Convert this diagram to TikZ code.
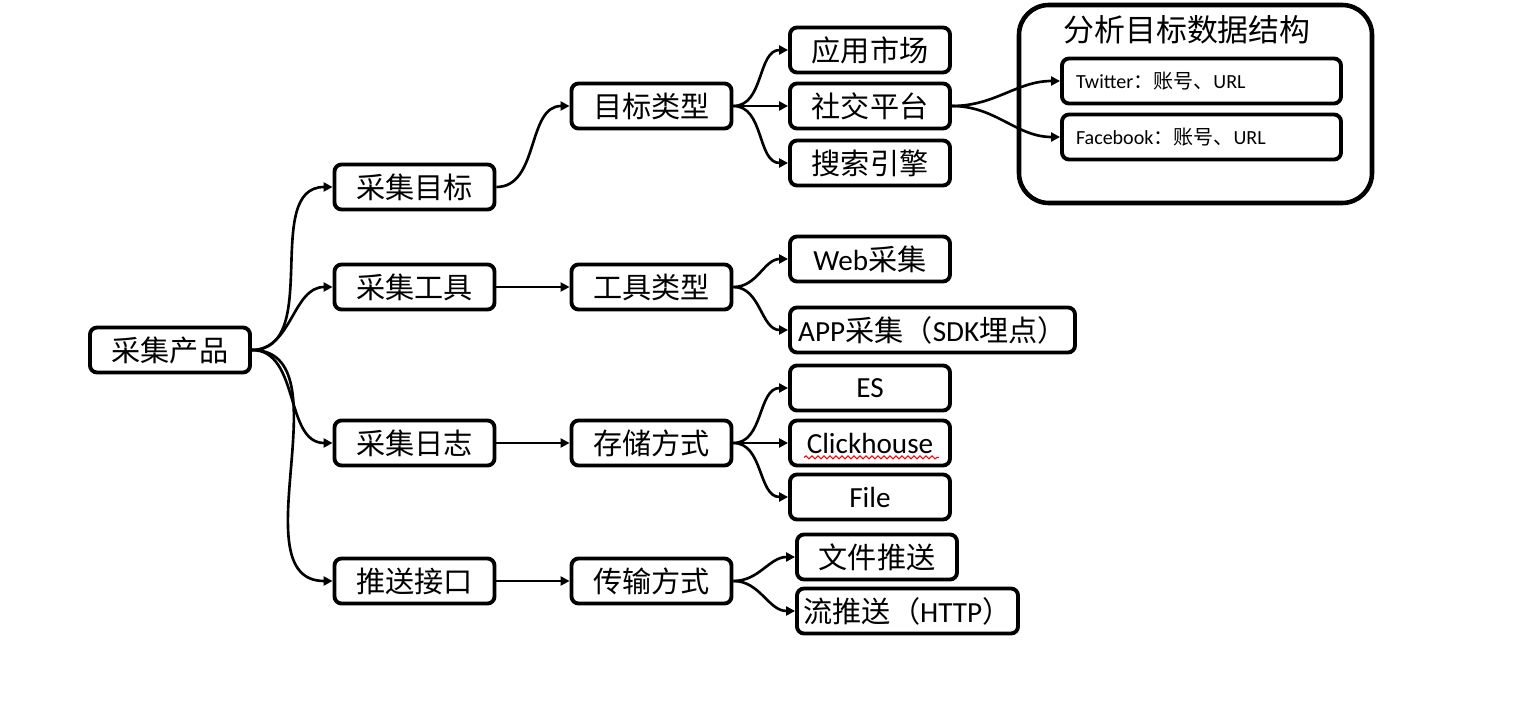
\documentclass[tikz,border=0pt]{standalone}
\usepackage{fontspec}
\setmainfont{Carlito}
\newfontfamily\cjk{Noto Sans CJK SC}
\usepackage{tikz}
\usetikzlibrary{arrows.meta,decorations.pathmorphing}

\tikzset{
	box/.style={draw, line width=1.1pt, rounded corners=2pt, minimum width=1.6cm, minimum height=0.45cm, inner sep=1pt, font=\fontsize{8.3}{9}\selectfont},
	leaf/.style={box, text width=2.51cm, align=left, inner xsep=0.14cm, font=\fontsize{5.7}{6}\selectfont},
	link/.style={line width=0.75pt, -{Triangle[length=0.9mm,width=0.9mm]}}
}

\begin{document}
\begin{tikzpicture}

			\useasboundingbox (0, 0) rectangle (15.15, 7.18);

			\draw[line width=1.3pt, rounded corners=8.5pt] (10.19, 5.15) rectangle (13.72, 7.13);
			\node[font=\fontsize{8.8}{9}\selectfont] (title) at (11.87, 6.88) {\cjk 分析目标数据结构};

			\node[box] (prod) at (1.70, 3.68) {\cjk 采集产品};

			\node[box] (tgt) at (4.145, 5.31) {\cjk 采集目标};
			\node[box] (tool) at (4.145, 4.31) {\cjk 采集工具};
			\node[box] (log) at (4.145, 2.75) {\cjk 采集日志};
			\node[box] (push) at (4.145, 1.37) {\cjk 推送接口};

			\node[box] (ttype) at (6.515, 6.12) {\cjk 目标类型};
			\node[box] (ltype) at (6.515, 4.31) {\cjk 工具类型};
			\node[box] (store) at (6.515, 2.75) {\cjk 存储方式};
			\node[box] (trans) at (6.515, 1.37) {\cjk 传输方式};

			\node[box] (market) at (8.70, 6.68) {\cjk 应用市场};
			\node[box] (social) at (8.70, 6.12) {\cjk 社交平台};
			\node[box] (search) at (8.70, 5.55) {\cjk 搜索引擎};
			\node[box] (web) at (8.70, 4.59) {Web{\cjk 采集}};
			\node[box, minimum width=2.85cm] (sdk) at (9.325, 3.88) {APP{\cjk 采集（}SDK{\cjk 埋点）}};
			\node[box] (es) at (8.70, 3.30) {ES};
			\node[box] (ck) at (8.70, 2.75) {Clickhouse};
			\node[box] (file) at (8.70, 2.21) {File};
			\node[box] (fpush) at (8.77, 1.61) {\cjk 文件推送};
			\node[box, minimum width=2.21cm] (spush) at (9.075, 1.07) {{\cjk 流推送（}HTTP{\cjk ）}};

			\node[leaf] (tw) at (12.015, 6.37) {Twitter{\cjk ：账号、}URL};
			\node[leaf] (fb) at (12.015, 5.81) {Facebook{\cjk ：账号、}URL};

			\draw[red, line width=0.3pt, decorate, decoration={snake, segment length=0.6mm, amplitude=0.15mm}]
				([xshift=0.16cm, yshift=0.1cm]ck.south west) -- ([xshift=-0.13cm, yshift=0.1cm]ck.south east);

			\foreach \from/\to in {prod/tgt, prod/tool, prod/log, prod/push,
				tgt/ttype, tool/ltype, log/store, push/trans,
				ttype/market, ttype/social, ttype/search,
				ltype/web, ltype/sdk,
				store/es, store/ck, store/file,
				trans/fpush, trans/spush,
				social/tw, social/fb}
			{
					\draw[link] (\from.east) to[out=0, in=180] (\to.west);
			}

		\end{tikzpicture}
\end{document}
